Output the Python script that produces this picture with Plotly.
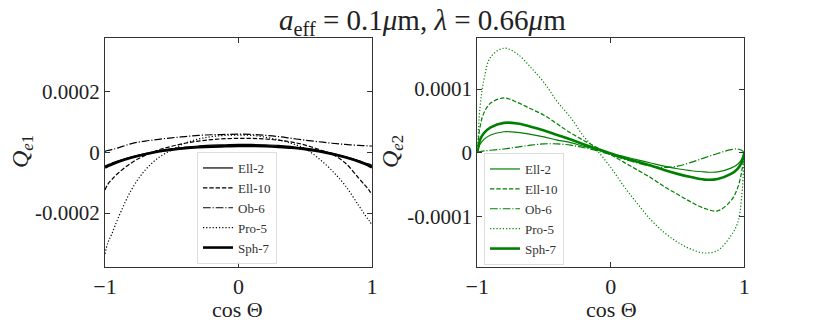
import plotly.graph_objects as go

# cos(Theta) sample points
cos_theta = [-1, -0.98, -0.95, -0.9, -0.8, -0.7, -0.6, -0.5, -0.4, -0.3, -0.2, -0.1, 0,
             0.1, 0.2, 0.3, 0.4, 0.5, 0.6, 0.7, 0.8, 0.9, 0.95, 0.98, 1]

# left panel: Q_e1
qe1_ell2 = [-4.5e-5, -4.1e-5, -3.6e-5, -2.8e-5, -1.5e-5, -0.4e-5, 0.5e-5, 1.2e-5, 1.7e-5, 2.1e-5, 2.4e-5, 2.5e-5, 2.6e-5,
            2.6e-5, 2.5e-5, 2.3e-5, 1.9e-5, 1.4e-5, 0.7e-5, -0.3e-5, -1.4e-5, -2.7e-5, -3.5e-5, -3.9e-5, -4.3e-5]
qe1_ell10 = [-12.4e-5, -10.6e-5, -9.0e-5, -6.8e-5, -3.4e-5, -1.0e-5, 0.8e-5, 2.0e-5, 3.0e-5, 3.7e-5, 4.2e-5, 4.5e-5, 4.6e-5,
             4.6e-5, 4.4e-5, 4.0e-5, 3.4e-5, 2.4e-5, 1.0e-5, -0.6e-5, -3.5e-5, -8.5e-5, -11.0e-5, -12.6e-5, -14.0e-5]
qe1_ob6 = [0.3e-5, 0.6e-5, 0.9e-5, 1.5e-5, 2.9e-5, 3.7e-5, 4.3e-5, 4.8e-5, 5.2e-5, 5.6e-5, 5.8e-5, 5.9e-5, 6.0e-5,
           5.9e-5, 5.6e-5, 5.2e-5, 4.6e-5, 4.0e-5, 3.5e-5, 3.0e-5, 2.6e-5, 2.3e-5, 2.2e-5, 2.1e-5, 2.1e-5]
qe1_pro5 = [-33.5e-5, -30.0e-5, -27.0e-5, -21.5e-5, -12.2e-5, -5.9e-5, -1.8e-5, 0.8e-5, 3.0e-5, 4.4e-5, 5.2e-5, 5.6e-5, 5.7e-5,
            5.6e-5, 5.0e-5, 4.1e-5, 2.9e-5, 1.2e-5, -2.0e-5, -6.0e-5, -11.0e-5, -17.5e-5, -20.8e-5, -22.6e-5, -24.0e-5]
qe1_sph7 = [-5.0e-5, -4.6e-5, -4.0e-5, -3.1e-5, -1.7e-5, -0.6e-5, 0.3e-5, 0.9e-5, 1.4e-5, 1.7e-5, 1.9e-5, 2.0e-5, 2.1e-5,
            2.1e-5, 2.0e-5, 1.8e-5, 1.5e-5, 1.0e-5, 0.4e-5, -0.5e-5, -1.6e-5, -3.0e-5, -3.9e-5, -4.5e-5, -5.0e-5]

# right panel: Q_e2
qe2_ell2 = [0, 1.3e-5, 2.1e-5, 2.8e-5, 3.3e-5, 3.2e-5, 2.9e-5, 2.5e-5, 2.0e-5, 1.6e-5, 1.0e-5, 0.5e-5, -0.1e-5,
            -0.6e-5, -1.1e-5, -1.6e-5, -2.1e-5, -2.5e-5, -2.8e-5, -3.0e-5, -3.0e-5, -2.4e-5, -1.8e-5, -1.0e-5, 0]
qe2_ell10 = [0, 4.0e-5, 6.3e-5, 7.8e-5, 8.6e-5, 7.9e-5, 6.9e-5, 5.9e-5, 4.5e-5, 3.1e-5, 1.9e-5, 0.8e-5, -0.3e-5,
             -1.5e-5, -2.7e-5, -3.9e-5, -5.3e-5, -6.5e-5, -7.7e-5, -8.7e-5, -9.1e-5, -7.5e-5, -5.5e-5, -3.0e-5, 0]
qe2_ob6 = [0, 0.2e-5, 0.3e-5, 0.4e-5, 0.6e-5, 0.9e-5, 1.2e-5, 1.4e-5, 1.4e-5, 1.2e-5, 0.8e-5, 0.3e-5, -0.3e-5,
           -1.0e-5, -1.6e-5, -2.1e-5, -2.3e-5, -2.1e-5, -1.5e-5, -0.8e-5, -0.1e-5, 0.5e-5, 0.6e-5, 0.4e-5, 0]
qe2_pro5 = [0, 7.0e-5, 11.5e-5, 15.0e-5, 16.4e-5, 15.5e-5, 13.4e-5, 11.0e-5, 8.0e-5, 5.5e-5, 2.5e-5, 0.3e-5, -2.3e-5,
            -5.3e-5, -8.0e-5, -10.5e-5, -12.5e-5, -14.0e-5, -15.1e-5, -15.7e-5, -15.3e-5, -13.0e-5, -11.0e-5, -7.0e-5, 0]
qe2_sph7 = [0, 2.0e-5, 3.1e-5, 4.0e-5, 4.7e-5, 4.6e-5, 4.1e-5, 3.5e-5, 2.8e-5, 2.1e-5, 1.3e-5, 0.6e-5, -0.1e-5,
            -0.8e-5, -1.4e-5, -2.0e-5, -2.7e-5, -3.3e-5, -3.8e-5, -4.2e-5, -4.1e-5, -3.3e-5, -2.5e-5, -1.5e-5, 0]

names = ["Ell-2", "Ell-10", "Ob-6", "Pro-5", "Sph-7"]
left_series = [qe1_ell2, qe1_ell10, qe1_ob6, qe1_pro5, qe1_sph7]
right_series = [qe2_ell2, qe2_ell10, qe2_ob6, qe2_pro5, qe2_sph7]

styles = [
    (1.2, "solid"),
    (1.2, "4.4px,1.9px"),
    (1.2, "7.7px,1.9px,1.2px,1.9px"),
    (1.2, "1.2px,2px"),
    (2.6, "solid"),
]

FONT = "'Liberation Serif', 'DejaVu Serif', serif"
W, H = 831, 325


def px(x):
    return x / W


def py(y):
    return 1 - y / H


fig = go.Figure()

for name, ys, (lw, dash) in zip(names, left_series, styles):
    fig.add_trace(go.Scatter(x=cos_theta, y=ys, mode="lines", name=name,
                             line=dict(color="black", width=lw, dash=dash, shape="spline"),
                             xaxis="x", yaxis="y", legend="legend"))

for name, ys, (lw, dash) in zip(names, right_series, styles):
    fig.add_trace(go.Scatter(x=cos_theta, y=ys, mode="lines", name=name,
                             line=dict(color="green", width=lw, dash=dash, shape="spline"),
                             xaxis="x2", yaxis="y2", legend="legend2"))

axis_common = dict(showline=True, linecolor="#333", linewidth=1, mirror="allticks",
                   ticks="inside", ticklen=5, tickcolor="#333", showgrid=False, zeroline=False,
                   automargin=False,
                   tickfont=dict(family=FONT, size=21, color="#222"))

xticks = dict(tickvals=[-1, 0, 1], ticktext=["\u22121", "0", "1"], range=[-1, 1],
              tickfont=dict(family=FONT, size=22, color="#222"))
ax_x = {k: v for k, v in axis_common.items() if k != "tickfont"}

fig.update_layout(
    width=W, height=H,
    margin=dict(l=0, r=0, t=0, b=0),
    plot_bgcolor="white", paper_bgcolor="white",
    xaxis=dict(domain=[px(105), px(372)], anchor="y", **xticks, **ax_x),
    yaxis=dict(domain=[py(267), py(38)], anchor="x", range=[-0.000378, 0.000377],
               tickvals=[-0.0002, 0, 0.0002], ticktext=["-0.0002", "0", "0.0002"], **axis_common),
    xaxis2=dict(domain=[px(477.3), px(744.3)], anchor="y2", **xticks, **ax_x),
    yaxis2=dict(domain=[py(267), py(38)], anchor="x2", range=[-0.000179, 0.00018],
                tickvals=[-0.0001, 0, 0.0001], ticktext=["-0.0001", "0", "0.0001"], **axis_common),
    legend=dict(x=px(197), y=py(152), xanchor="left", yanchor="top",
                bgcolor="rgba(255,255,255,0.8)", bordercolor="#ddd", borderwidth=1,
                font=dict(family=FONT, size=13, color="#333")),
    legend2=dict(x=px(484), y=py(153), xanchor="left", yanchor="top",
                 bgcolor="rgba(255,255,255,0.8)", bordercolor="#ddd", borderwidth=1,
                 font=dict(family=FONT, size=13, color="#333")),
    showlegend=True,
)

annos = [
    dict(text="<i>a</i><sub>eff</sub> = 0.1<i>\u03bc</i>m, <i>\u03bb</i> = 0.66<i>\u03bc</i>m",
         x=422, y=22, size=29, angle=0),
    dict(text="cos \u0398", x=238, y=309, size=22, angle=0),
    dict(text="cos \u0398", x=611, y=309, size=22, angle=0),
    dict(text="<i>Q</i><sub><i>e</i>1</sub>", x=22, y=152, size=24, angle=-90),
    dict(text="<i>Q</i><sub><i>e</i>2</sub>", x=392, y=152, size=24, angle=-90),
]
for a in annos:
    fig.add_annotation(text=a["text"], x=px(a["x"]), y=py(a["y"]), xref="paper", yref="paper",
                       showarrow=False, textangle=a["angle"], xanchor="center", yanchor="middle",
                       font=dict(family=FONT, size=a["size"], color="#222"))

# drop the default 8px page margin so the figure fills the window exactly
fig.write_html("out.html", config={"displayModeBar": False},
               post_script="document.body.style.margin='0';")
